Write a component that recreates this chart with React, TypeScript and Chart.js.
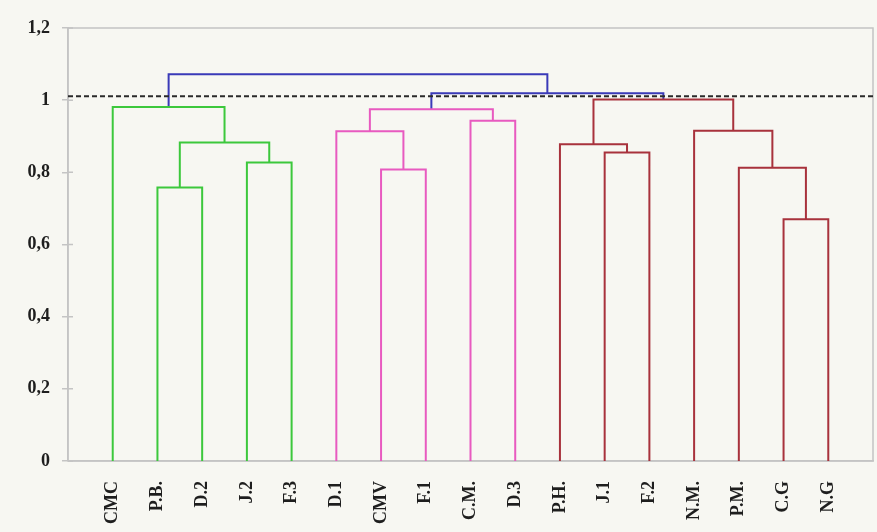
import React, { useEffect, useRef } from "react";
import { Chart, registerables } from "chart.js";

Chart.register(...registerables);

const leafLabels = ["CMC", "P.B.", "D.2", "J.2", "F.3", "D.1", "CMV", "F.1", "C.M.", "D.3", "P.H.", "J.1", "F.2", "N.M.", "P.M.", "C.G", "N.G"];
const leafCluster = [0, 0, 0, 0, 0, 1, 1, 1, 1, 1, 2, 2, 2, 2, 2, 2, 2];
// linkage: node ids 0..16 are leaves, 17+ are merges in order
const mergeLeft = [15, 1, 6, 14, 3, 11, 10, 18, 5, 13, 8, 25, 0, 23, 28, 29];
const mergeRight = [16, 2, 7, 17, 4, 12, 22, 21, 19, 20, 9, 27, 24, 26, 30, 31];
const mergeHeight = [0.67, 0.758, 0.808, 0.8125, 0.827, 0.855, 0.878, 0.883, 0.914, 0.915, 0.943, 0.975, 0.981, 1.002, 1.019, 1.072];
const cutHeight = 1.011;
const yTicks = [0, 0.2, 0.4, 0.6, 0.8, 1, 1.2];

const clusterColors = ["#3cc83c", "#e85ac0", "#a8323c"];
const aboveColor = "#3a3ab8";

function buildSegments() {
  const n = leafLabels.length;
  const nx: number[] = [];
  const nh: number[] = [];
  const nc: number[] = [];
  for (let i = 0; i < n; i++) {
    nx.push(i + 1);
    nh.push(0);
    nc.push(leafCluster[i]);
  }
  const groups: Record<string, { x: number; y: number | null }[]> = {};
  mergeLeft.forEach((l, k) => {
    const r = mergeRight[k];
    const h = mergeHeight[k];
    const id = n + k;
    nx[id] = (nx[l] + nx[r]) / 2;
    nh[id] = h;
    nc[id] = h > cutHeight ? -1 : nc[l];
    const key = String(nc[id]);
    if (!groups[key]) groups[key] = [];
    const g = groups[key];
    if (g.length) g.push({ x: nx[l], y: null });
    g.push({ x: nx[l], y: nh[l] });
    g.push({ x: nx[l], y: h });
    g.push({ x: nx[r], y: h });
    g.push({ x: nx[r], y: nh[r] });
  });
  return groups;
}

export default function App() {
  const ref = useRef<HTMLCanvasElement>(null);
  useEffect(() => {
    if (!ref.current) return;
    const groups = buildSegments();
    const datasets: any[] = [
      {
        label: "cut",
        data: [
          { x: 0, y: cutHeight },
          { x: leafLabels.length + 1, y: cutHeight },
        ],
        borderColor: "#2a2a2a",
        borderWidth: 2,
        borderDash: [5, 3],
        pointRadius: 0,
      },
    ];
    Object.keys(groups).forEach((key) => {
      const c = Number(key);
      datasets.push({
        label: key,
        data: groups[key],
        borderColor: c < 0 ? aboveColor : clusterColors[c],
        borderWidth: 2,
        pointRadius: 0,
        spanGaps: false,
        tension: 0,
      });
    });
    const borderPlugin = {
      id: "frame",
      beforeDatasetsDraw(chart: any) {
        const { ctx, chartArea: a } = chart;
        ctx.save();
        ctx.strokeStyle = "#c4c4c4";
        ctx.lineWidth = 1.5;
        ctx.beginPath();
        ctx.moveTo(a.left, a.bottom);
        ctx.lineTo(a.left, a.top);
        ctx.lineTo(a.right, a.top);
        ctx.lineTo(a.right, a.bottom);
        ctx.lineTo(a.left, a.bottom);
        ctx.stroke();
        // small tick stubs crossing into the plot like the reference
        const ys = chart.scales.y;
        ctx.beginPath();
        yTicks.forEach((v) => {
          const py = ys.getPixelForValue(v);
          ctx.moveTo(a.left, py);
          ctx.lineTo(a.left + 5, py);
        });
        ctx.stroke();
        ctx.restore();
      },
    };
    const chart = new Chart(ref.current, {
      type: "line",
      data: { datasets },
      options: {
        animation: false,
        responsive: false,
        events: [],
        layout: { padding: { top: 28, right: 4, left: 0, bottom: 0 } },
        plugins: { legend: { display: false }, tooltip: { enabled: false } },
        scales: {
          x: {
            type: "linear",
            min: 0,
            max: leafLabels.length + 1,
            afterBuildTicks: (scale: any) => {
              scale.ticks = leafLabels.map((_, i) => ({ value: i + 1 }));
            },
            afterFit: (scale: any) => {
              scale.height = 71;
            },
            grid: { display: false, drawTicks: false },
            border: { display: true, color: "#c4c4c4", width: 1.5 },
            ticks: {
              autoSkip: false,
              minRotation: 90,
              maxRotation: 90,
              padding: 20,
              color: "#1e1e1e",
              font: { family: "'Liberation Serif', 'Times New Roman', serif", size: 18, weight: "bold" },
              callback: (v: any) => leafLabels[Math.round(v) - 1] ?? "",
            },
          },
          y: {
            type: "linear",
            min: 0,
            max: 1.2,
            afterBuildTicks: (scale: any) => {
              scale.ticks = yTicks.map((v) => ({ value: v }));
            },
            afterFit: (scale: any) => {
              scale.width = 68;
            },
            grid: { drawOnChartArea: false, drawTicks: true, tickLength: 6, color: "#c4c4c4", lineWidth: 1.5 },
            border: { display: true, color: "#c4c4c4", width: 1.5 },
            ticks: {
              padding: 12,
              color: "#1e1e1e",
              font: { family: "'Liberation Serif', 'Times New Roman', serif", size: 18, weight: "bold" },
              callback: (v: any) => String(Math.round(Number(v) * 10) / 10).replace(".", ","),
            },
          },
        },
      },
      plugins: [borderPlugin],
    } as any);
    return () => chart.destroy();
  }, []);
  return (
    <div style={{ position: "absolute", left: 0, top: 0, width: 877, height: 532, background: "#f7f7f2" }}>
      <canvas ref={ref} width={877} height={532} style={{ display: "block" }} />
    </div>
  );
}
